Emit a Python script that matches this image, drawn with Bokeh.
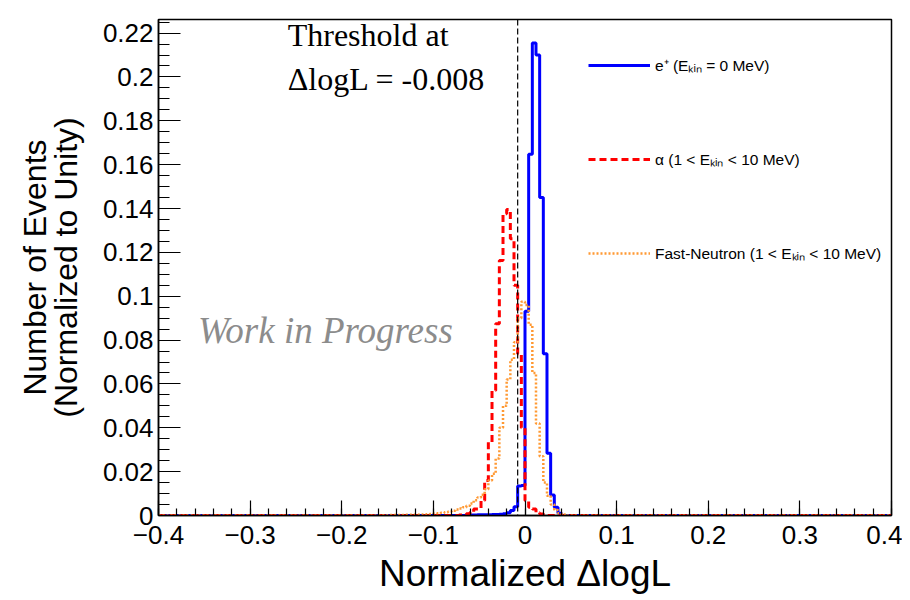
import numpy as np
from bokeh.plotting import figure
from bokeh.models import FixedTicker, Span, Label, Legend, LegendItem
from bokeh.embed import file_html
from bokeh.resources import INLINE

# ---------------- data ----------------
X_MIN, X_MAX, N_BINS = -0.4, 0.4, 200
THRESHOLD = -0.008

# e+ (E_kin = 0 MeV): first bin lower edge and bin contents
positron_start = -0.060
positron_vals = [0.0002, 0.0002, 0.0003, 0.0003, 0.0003,
                 0.0003, 0.0004, 0.0005, 0.0006, 0.0008,
                 0.0012, 0.0023, 0.0040, 0.0135, 0.0137,
                 0.0932, 0.1647, 0.2155, 0.2100, 0.1450,
                 0.0738, 0.0284, 0.0094, 0.0038, 0.0010]

# alpha (1 < E_kin < 10 MeV)
alpha_start = -0.072
alpha_vals = [0.0002, 0.0004, 0.0008, 0.0015, 0.0030,
              0.0030, 0.0068, 0.0160, 0.0334, 0.0570,
              0.0875, 0.1163, 0.1376, 0.1395, 0.1262,
              0.1050, 0.0738, 0.0400, 0.0068, 0.0038,
              0.0030, 0.0012, 0.0007, 0.0004]

# fast neutron (1 < E_kin < 10 MeV)
neutron_start = -0.160
neutron_vals = [0.0001, 0.0001, 0.0001, 0.0002, 0.0002,
                0.0002, 0.0002, 0.0003, 0.0003, 0.0003,
                0.0003, 0.0004, 0.0005, 0.0006, 0.0007,
                0.0009, 0.0010, 0.0012, 0.0015, 0.0018,
                0.0022, 0.0027, 0.0032, 0.0038, 0.0045,
                0.0055, 0.0070, 0.0082, 0.0095, 0.0120,
                0.0160, 0.0190, 0.0260, 0.0400, 0.0500,
                0.0620, 0.0710, 0.0790, 0.0900, 0.0975,
                0.0960, 0.0870, 0.0650, 0.0420, 0.0270,
                0.0150, 0.0090, 0.0050, 0.0025, 0.0010,
                0.0005]

x_ticks = [-0.4, -0.3, -0.2, -0.1, 0.0, 0.1, 0.2, 0.3, 0.4]
x_tick_labels = ["\u22120.4", "\u22120.3", "\u22120.2", "\u22120.1", "0", "0.1", "0.2", "0.3", "0.4"]
y_ticks = [0.0, 0.02, 0.04, 0.06, 0.08, 0.1, 0.12, 0.14, 0.16, 0.18, 0.2, 0.22]
y_tick_labels = ["0", "0.02", "0.04", "0.06", "0.08", "0.1", "0.12", "0.14", "0.16", "0.18", "0.2", "0.22"]

legend_labels = ["e\u207a (E\u2096\u1d62\u2099 = 0 MeV)",
                 "\u03b1 (1 < E\u2096\u1d62\u2099 < 10 MeV)",
                 "Fast-Neutron (1 < E\u2096\u1d62\u2099 < 10 MeV)"]

# ---------------- helpers ----------------
bin_w = (X_MAX - X_MIN) / N_BINS
edges = np.linspace(X_MIN, X_MAX, N_BINS + 1)


def full_hist(start, vals):
    h = np.zeros(N_BINS)
    i0 = int(round((start - X_MIN) / bin_w))
    h[i0:i0 + len(vals)] = vals
    return np.append(h, h[-1])


FONT = "Liberation Sans"

p = figure(frame_width=733, frame_height=496,
           x_range=(X_MIN, X_MAX), y_range=(0, 0.2262),
           output_backend="svg", toolbar_location=None,
           min_border_left=158, min_border_right=11,
           min_border_top=19, min_border_bottom=77)
p.xgrid.visible = False
p.ygrid.visible = False
p.outline_line_color = "black"
p.outline_line_width = 1.5
p.outline_line_alpha = 1.0
p.background_fill_color = "white"
p.border_fill_color = "white"

r_pos = p.step(edges, full_hist(positron_start, positron_vals), mode="after",
               line_color="#0000ff", line_width=3)
r_alpha = p.step(edges, full_hist(alpha_start, alpha_vals), mode="after",
                 line_color="#ff0000", line_width=3, line_dash="7 4")
r_neu = p.step(edges, full_hist(neutron_start, neutron_vals), mode="after",
               line_color="#ff9933", line_width=2.5, line_dash="2 2")

p.add_layout(Span(location=THRESHOLD, dimension="height", line_color="black",
                  line_width=1.2, line_dash="6 3"))

# axes
p.xaxis.ticker = FixedTicker(ticks=x_ticks,
                             minor_ticks=[round(X_MIN + 0.02 * i, 3) for i in range(41)])
p.xaxis.major_label_overrides = dict(zip(x_ticks, x_tick_labels))
p.yaxis.ticker = FixedTicker(ticks=y_ticks,
                             minor_ticks=[round(0.005 * i, 3) for i in range(46)])
p.yaxis.major_label_overrides = dict(zip(y_ticks, y_tick_labels))

for ax in (p.xaxis[0], p.yaxis[0]):
    ax.axis_line_color = "black"
    ax.axis_line_width = 1.5
    ax.major_tick_line_color = "black"
    ax.minor_tick_line_color = "black"
    ax.major_tick_line_width = 1.2
    ax.minor_tick_line_width = 1.2
    ax.major_tick_out = 0
    ax.minor_tick_out = 0
    ax.major_label_text_font = FONT
    ax.major_label_text_font_size = "26px"
    ax.major_label_text_color = "black"
    ax.axis_label_text_font = FONT
    ax.axis_label_text_font_style = "normal"
    ax.axis_label_text_color = "black"

p.xaxis.major_tick_in = 15
p.xaxis.minor_tick_in = 7
p.yaxis.major_tick_in = 22
p.yaxis.minor_tick_in = 11
p.xaxis.major_label_standoff = 10
p.yaxis.major_label_standoff = 5

p.xaxis.axis_label = "Normalized \u0394logL"
p.xaxis.axis_label_text_font_size = "37px"
p.xaxis.axis_label_standoff = 6
p.yaxis.axis_label = "Number of Events\n(Normalized to Unity)"
p.yaxis.axis_label_text_font_size = "32px"
p.yaxis.axis_label_standoff = 16
p.yaxis.axis_label_text_line_height = 0.85

# annotations
p.add_layout(Label(x=-0.259, y=0.2108, text="Threshold at", text_font="Liberation Serif",
                   text_font_size="32px", text_color="black"))
p.add_layout(Label(x=-0.259, y=0.1910, text="\u0394logL = -0.008", text_font="Liberation Serif",
                   text_font_size="32px", text_color="black"))
p.add_layout(Label(x=-0.357, y=0.075, text="Work in Progress", text_font="Liberation Serif",
                   text_font_style="italic", text_font_size="37px", text_color="#8c8c8c"))

legend = Legend(items=[LegendItem(label=legend_labels[0], renderers=[r_pos]),
                       LegendItem(label=legend_labels[1], renderers=[r_alpha]),
                       LegendItem(label=legend_labels[2], renderers=[r_neu])],
                location=(430, 250), glyph_width=62, glyph_height=24,
                label_height=24, spacing=70, padding=0, margin=0,
                label_standoff=5, label_text_font=FONT, label_text_font_size="15.5px",
                label_text_color="black", border_line_color=None,
                background_fill_alpha=0.0)
p.add_layout(legend)

open("out.html", "w").write(file_html(p, INLINE))
